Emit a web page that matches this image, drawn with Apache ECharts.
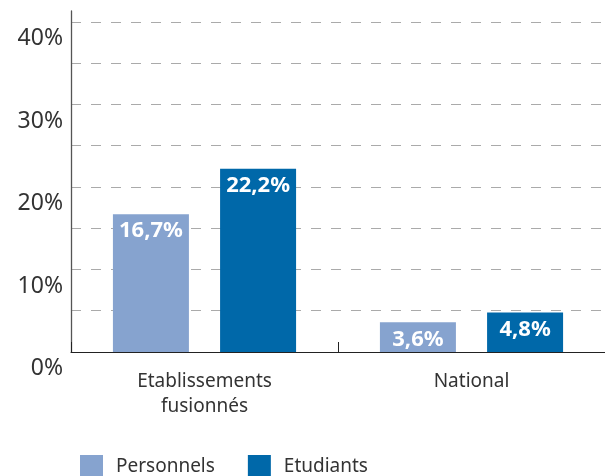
<!DOCTYPE html>
<html>
<head>
<meta charset="utf-8">
<script src="https://cdn.jsdelivr.net/npm/echarts@6/dist/echarts.min.js"></script>
<style>
  html, body { margin: 0; padding: 0; background: #fff; }
  #chart { width: 605px; height: 476px; }
</style>
</head>
<body>
<div id="chart"></div>
<script>
// Share (%) of each population, by group
const categories = ['Etablissements\nfusionnés', 'National'];
const personnels = [16.7, 3.6];
const etudiants = [22.2, 4.8];
const seriesNames = ['Personnels', 'Etudiants'];
const yTickLabels = [0, 10, 20, 30, 40];

const FONT = '"Noto Sans", sans-serif';
const fmtPct = v => String(v).replace('.', ',') + '%';

const chart = echarts.init(document.getElementById('chart'), null, { renderer: 'canvas' });

const barLabel = {
  show: true,
  position: 'insideTop',
  distance: 6,
  color: '#ffffff',
  fontFamily: FONT,
  fontWeight: 'bold',
  fontSize: 22,
  formatter: p => fmtPct(p.value)
};

chart.setOption({
  animation: false,
  grid: { left: 71, right: -4, top: 11, bottom: 124, containLabel: false },
  legend: {
    data: seriesNames,
    left: 75,
    top: 450,
    itemWidth: 23,
    itemHeight: 23,
    itemGap: 33,
    icon: 'rect',
    textStyle: { fontFamily: FONT, fontSize: 19, color: '#333', padding: [0, 0, 0, 8] }
  },
  xAxis: {
    type: 'category',
    data: categories,
    axisLine: { lineStyle: { color: '#222', width: 1 } },
    axisTick: { show: true, inside: true, length: 10, lineStyle: { color: '#222' } },
    axisLabel: {
      margin: 17,
      fontFamily: FONT,
      fontSize: 19,
      lineHeight: 25,
      color: '#333'
    }
  },
  yAxis: {
    type: 'value',
    min: 0,
    max: 41.33,
    interval: 5,
    axisLine: { show: true, lineStyle: { color: '#555', width: 1.3 } },
    axisTick: { show: false },
    splitLine: {
      show: true,
      showMinLine: false,
      showMaxLine: false,
      lineStyle: { color: '#aaaaaa', type: [10, 10], width: 1 }
    },
    axisLabel: {
      margin: 8,
      fontFamily: FONT,
      fontSize: 23,
      color: '#333',
      verticalAlign: 'top',
      padding: [5, 0, 0, 0],
      formatter: v => (yTickLabels.indexOf(v) >= 0 ? v + '%' : '')
    }
  },
  series: [
    {
      name: seriesNames[0],
      type: 'bar',
      data: personnels,
      barWidth: 76,
      barGap: '41%',
      itemStyle: { color: '#86a3cf' },
      label: barLabel
    },
    {
      name: seriesNames[1],
      type: 'bar',
      data: etudiants,
      barWidth: 76,
      itemStyle: { color: '#0068a9' },
      label: barLabel
    }
  ]
});
</script>
</body>
</html>
